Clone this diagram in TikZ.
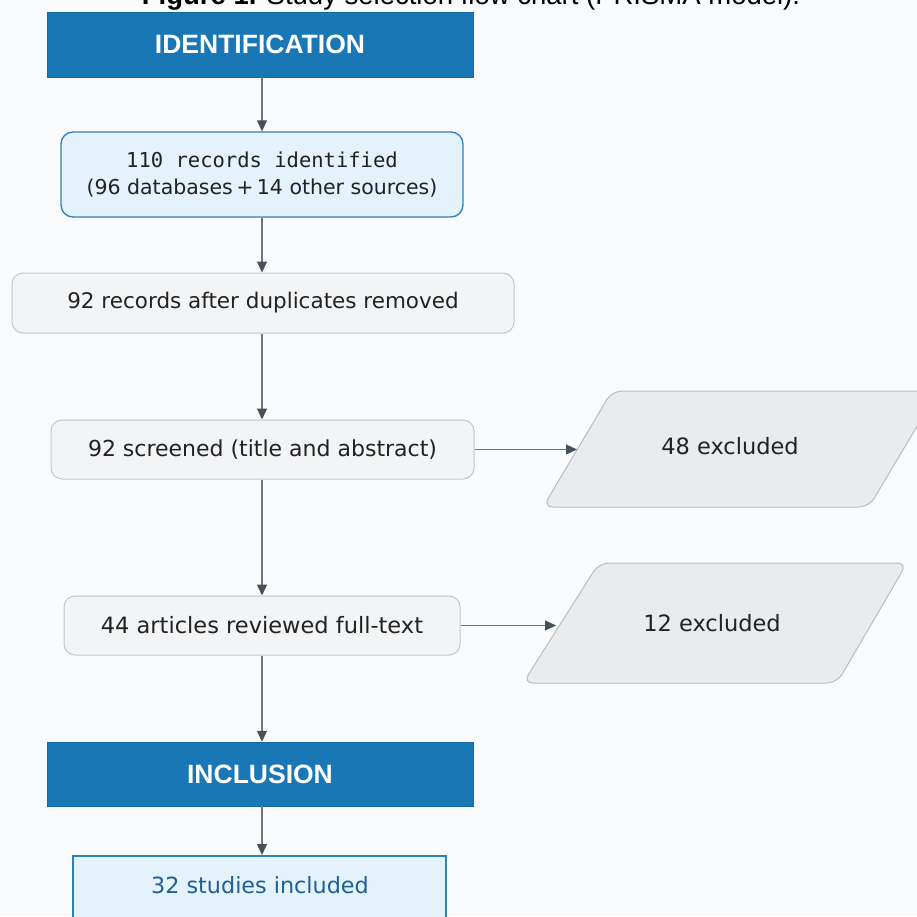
\documentclass[tikz,border=0pt]{standalone}
\usepackage{fontspec}
\setmainfont{DejaVu Sans}
\newfontfamily\headfont{Liberation Sans}
\newfontfamily\codefont{DejaVu Sans Mono}
\usetikzlibrary{arrows.meta}
\definecolor{bgcol}{HTML}{F9FAFB}
\definecolor{headblue}{HTML}{1A77B6}
\definecolor{headedge}{HTML}{1668A3}
\definecolor{paleblue}{HTML}{E4F2FB}
\definecolor{blueedge}{HTML}{2F7FBA}
\definecolor{greyfill}{HTML}{F3F4F6}
\definecolor{greyedge}{HTML}{C3C7CC}
\definecolor{exfill}{HTML}{E9EBEE}
\definecolor{exedge}{HTML}{B8BDC3}
\definecolor{linecol}{HTML}{6E757C}
\definecolor{tipcol}{HTML}{46515C}
\definecolor{inktext}{HTML}{222222}
\definecolor{finaltext}{HTML}{1F5F93}
\tikzset{
  header/.style={draw=headedge, fill=headblue, text=white, inner sep=0pt,
    font=\headfont\bfseries\fontsize{26.5}{30}\selectfont},
  bluebox/.style={draw=blueedge, line width=1.3pt, fill=paleblue, rounded corners=12pt,
    inner sep=0pt, text=inktext, align=center},
  greybox/.style={draw=greyedge, line width=1pt, fill=greyfill, rounded corners=11pt,
    inner sep=0pt, text=inktext},
  exshape/.style={draw=exedge, line width=1pt, fill=exfill, rounded corners=10pt},
  extext/.style={text=inktext, font=\fontsize{22.5}{26}\selectfont, inner sep=0pt},
  flow/.style={draw=linecol, line width=1.2pt,
    -{Triangle[length=11pt,width=10pt,color=tipcol]}},
}
\begin{document}
\begin{tikzpicture}[x=1pt,y=-1pt]
  \useasboundingbox (0,0) rectangle (917,916);
  \clip (0,0) rectangle (917,916);
  \fill[bgcol] (0,0) rectangle (917,916);

  % caption, partly above the frame
  \node[anchor=base, inner sep=0pt, font=\headfont\fontsize{27.5}{30}\selectfont, text=black]
    (caption) at (471,4) {\textbf{Figure 1.} Study selection flow chart (PRISMA model).};

  % main column
  \node[header, minimum width=426pt, minimum height=65pt] (ident) at (260,44.5) {IDENTIFICATION};
  \node[bluebox, minimum width=402pt, minimum height=85pt, font=\fontsize{20.5}{27}\selectfont]
    (rec) at (262,174.5)
    {{\codefont 110 records identified}\\
     (96 databases\,+\,14 other sources)};
  \node[greybox, minimum width=502pt, minimum height=60pt, font=\fontsize{21.5}{24}\selectfont]
    (dup) at (263,303) {92 records after duplicates removed};
  \node[greybox, minimum width=423pt, minimum height=59pt, font=\fontsize{22}{24}\selectfont]
    (scr) at (262.5,449.5) {92 screened (title and abstract)};
  \node[greybox, minimum width=396pt, minimum height=59pt, font=\fontsize{22.5}{24}\selectfont]
    (full) at (262,625.5) {44 articles reviewed full-text};
  \node[header, minimum width=426pt, minimum height=64pt] (incl) at (260,774) {INCLUSION};
  \node[bluebox, line width=1.5pt, rounded corners=0pt, minimum width=373pt, minimum height=110pt,
    anchor=north] (final) at (259.5,855) {};
  \node[text=finaltext, font=\fontsize{22.3}{24}\selectfont, inner sep=0pt] (finaltxt) at (260,885)
    {32 studies included};

  % exclusion boxes
  \draw[exshape] (612,391) -- (938,391) -- (869,507) -- (543,507) -- cycle;
  \node[extext] (ex1) at (730,446) {48 excluded};
  \coordinate (ex1in) at (577,449.5);
  \draw[exshape] (599,563) -- (907,563) -- (837,683) -- (523,683) -- cycle;
  \node[extext] (ex2) at (712,623) {12 excluded};
  \coordinate (ex2in) at (556,625.5);

  % connectors
  \draw[flow] (ident.south -| rec.north) -- (rec.north);
  \draw[flow] (rec.south) -- (rec.south |- dup.north);
  \draw[flow] (rec.south |- dup.south) -- (rec.south |- scr.north);
  \draw[flow] (rec.south |- scr.south) -- (rec.south |- full.north);
  \draw[flow] (rec.south |- full.south) -- (rec.south |- incl.north);
  \draw[flow] (rec.south |- incl.south) -- (rec.south |- final.north);
  \draw[flow] (scr.east) -- (ex1in);
  \draw[flow] (full.east) -- (ex2in);
\end{tikzpicture}
\end{document}
